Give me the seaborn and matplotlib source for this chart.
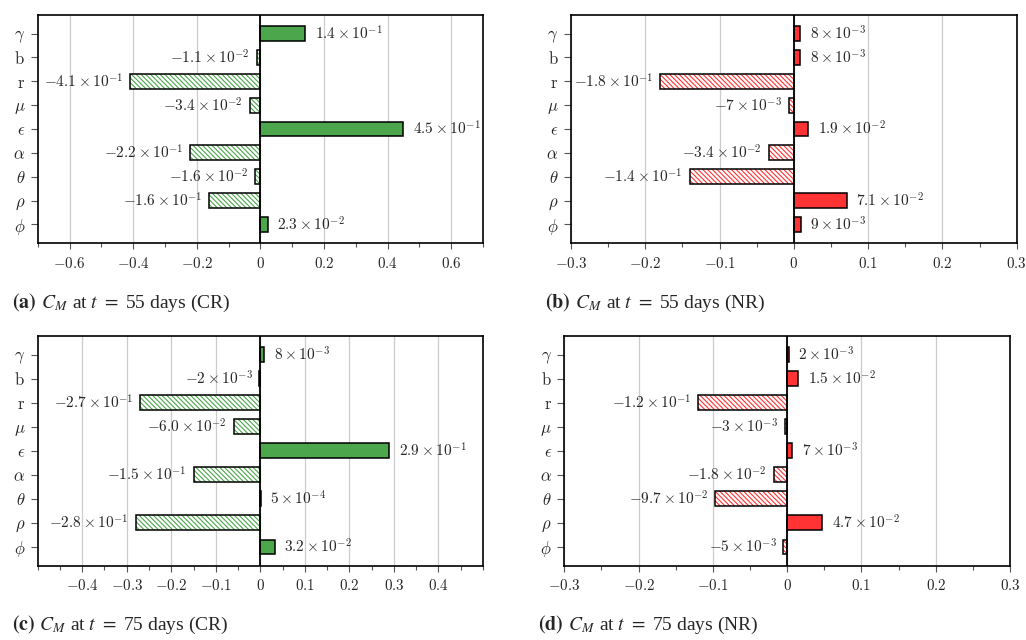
import matplotlib
matplotlib.use("Agg")
import matplotlib.pyplot as plt
import matplotlib.ticker as mticker
from matplotlib.colors import to_rgba
import seaborn as sns
import pandas as pd

# ---------------- data ----------------
params = [r"$\gamma$", r"$\mathrm{b}$", r"$\mathrm{r}$", r"$\mu$", r"$\epsilon$",
          r"$\alpha$", r"$\theta$", r"$\rho$", r"$\phi$"]

cr55 = [0.14, -0.011, -0.41, -0.034, 0.45, -0.22, -0.016, -0.16, 0.023]
cr55_labels = [r"1.4\times10^{-1}", r"-1.1\times10^{-2}", r"-4.1\times10^{-1}",
               r"-3.4\times10^{-2}", r"4.5\times10^{-1}", r"-2.2\times10^{-1}",
               r"-1.6\times10^{-2}", r"-1.6\times10^{-1}", r"2.3\times10^{-2}"]

nr55 = [0.008, 0.008, -0.18, -0.007, 0.019, -0.034, -0.14, 0.071, 0.009]
nr55_labels = [r"8\times10^{-3}", r"8\times10^{-3}", r"-1.8\times10^{-1}",
               r"-7\times10^{-3}", r"1.9\times10^{-2}", r"-3.4\times10^{-2}",
               r"-1.4\times10^{-1}", r"7.1\times10^{-2}", r"9\times10^{-3}"]

cr75 = [0.008, -0.002, -0.27, -0.060, 0.29, -0.15, 0.0005, -0.28, 0.032]
cr75_labels = [r"8\times10^{-3}", r"-2\times10^{-3}", r"-2.7\times10^{-1}",
               r"-6.0\times10^{-2}", r"2.9\times10^{-1}", r"-1.5\times10^{-1}",
               r"5\times10^{-4}", r"-2.8\times10^{-1}", r"3.2\times10^{-2}"]

nr75 = [0.002, 0.015, -0.12, -0.003, 0.007, -0.018, -0.097, 0.047, -0.005]
nr75_labels = [r"2\times10^{-3}", r"1.5\times10^{-2}", r"-1.2\times10^{-1}",
               r"-3\times10^{-3}", r"7\times10^{-3}", r"-1.8\times10^{-2}",
               r"-9.7\times10^{-2}", r"4.7\times10^{-2}", r"-5\times10^{-3}"]

xticks_a = [-0.6, -0.4, -0.2, 0.0, 0.2, 0.4, 0.6]
xticks_b = [-0.3, -0.2, -0.1, 0.0, 0.1, 0.2, 0.3]
xticks_c = [-0.4, -0.3, -0.2, -0.1, 0.0, 0.1, 0.2, 0.3, 0.4]
xticks_d = [-0.3, -0.2, -0.1, 0.0, 0.1, 0.2, 0.3]

captions = [
    (r"$\mathbf{(a)}$", r" $C_M$ at $t$ $=$ 55 days (CR)"),
    (r"$\mathbf{(b)}$", r" $C_M$ at $t$ $=$ 55 days (NR)"),
    (r"$\mathbf{(c)}$", r" $C_M$ at $t$ $=$ 75 days (CR)"),
    (r"$\mathbf{(d)}$", r" $C_M$ at $t$ $=$ 75 days (NR)"),
]

GREEN = "#4ca64c"
RED = "#ff3333"

# ---------------- style ----------------
sns.set_theme(style="white")
plt.rcParams.update({
    "mathtext.fontset": "cm",
    "font.family": ["DejaVu Serif"],
    "axes.edgecolor": "black",
    "axes.linewidth": 1.2,
    "hatch.linewidth": 0.8,
    "xtick.bottom": True,
    "ytick.left": True,
})

fig = plt.figure(figsize=(10.26, 6.4), dpi=100)

W, H = 1026, 640
def rect(l, r, t, b):
    return [l / W, (H - b) / H, (r - l) / W, (b - t) / H]

panels = [
    (rect(37.7, 483, 15, 243), cr55, cr55_labels, GREEN, (-0.7, 0.7), xticks_a, 0.1),
    (rect(571, 1016.7, 15, 243), nr55, nr55_labels, RED, (-0.3, 0.3), xticks_b, 0.05),
    (rect(37.7, 483, 336, 565.7), cr75, cr75_labels, GREEN, (-0.5, 0.5), xticks_c, 0.05),
    (rect(564.3, 1010, 336, 565.7), nr75, nr75_labels, RED, (-0.3, 0.3), xticks_d, 0.05),
]

def fmt(v, pos=None):
    if abs(v) < 1e-9:
        return r"$0$"
    return r"$%s$" % f"{v:g}"

for (pos, vals, labs, col, xlim, xt, minor) in panels:
    ax = fig.add_axes(pos)
    df = pd.DataFrame({"param": params, "value": vals})
    sns.barplot(data=df, x="value", y="param", orient="h", ax=ax,
                color=col, width=0.62, saturation=1.0, errorbar=None)
    for p, v in zip(ax.patches, vals):
        p.set_linewidth(1.1)
        if v >= 0:
            p.set_facecolor(col)
            p.set_edgecolor("black")
        else:
            p.set_facecolor("white")
            p.set_hatch("\\" * 7)
            p.set_edgecolor("black")
            p._hatch_color = to_rgba(col)
    # value labels
    for i, (v, t) in enumerate(zip(vals, labs)):
        if v >= 0:
            ax.annotate(r"$%s$" % t, (v, i), xytext=(7, 0), textcoords="offset points",
                        ha="left", va="center", fontsize=11)
        else:
            ax.annotate(r"$%s$" % t, (v, i), xytext=(-5, 0), textcoords="offset points",
                        ha="right", va="center", fontsize=11)
    ax.axvline(0, color="black", lw=1.3, zorder=5)
    ax.set_xlim(*xlim)
    ax.set_ylim(8.78, -0.78)
    ax.xaxis.set_major_locator(mticker.FixedLocator(xt))
    ax.xaxis.set_minor_locator(mticker.MultipleLocator(minor))
    ax.xaxis.set_major_formatter(mticker.FuncFormatter(fmt))
    ax.grid(axis="x", which="major", color="#cccccc", lw=0.9)
    ax.grid(axis="y", visible=False)
    ax.set_axisbelow(True)
    ax.set_xlabel("")
    ax.set_ylabel("")
    ax.tick_params(axis="x", which="major", length=4, width=0.8, color="#555555",
                   labelsize=10.8, pad=5, direction="out")
    ax.tick_params(axis="x", which="minor", length=3, width=0.8, color="#555555",
                   direction="out", bottom=True)
    ax.tick_params(axis="y", length=5, width=0.8, color="#555555", labelsize=12,
                   pad=4, direction="out")
    for s in ax.spines.values():
        s.set_color("black")
        s.set_linewidth(1.2)

cap_pos = [(12, 303), (545, 303), (12, 625), (538, 625)]
for (bold, rest), (x, y) in zip(captions, cap_pos):
    t1 = fig.text(x / W, (H - y) / H, bold, fontsize=14.5, va="center", ha="left",
                  family=["Liberation Serif"], math_fontfamily="stix")
    fig.canvas.draw()
    bb = t1.get_window_extent()
    fig.text(bb.x1 / W, (H - y) / H, rest, fontsize=14, va="center", ha="left",
             family=["Liberation Serif"], math_fontfamily="stix")

fig.savefig("out.png", dpi=100)
